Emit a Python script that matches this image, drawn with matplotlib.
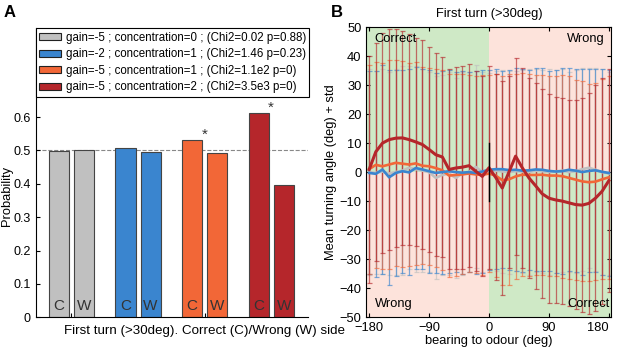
import numpy as np
import matplotlib.pyplot as plt
from matplotlib.patches import Patch

plt.rcParams['font.family'] = ['Liberation Sans', 'DejaVu Sans']
plt.rcParams['font.size'] = 9

# ---- panel A data
legendLabels = ['gain=-5 ; concentration=0 ; (Chi2=0.02 p=0.88)',
                'gain=-2 ; concentration=1 ; (Chi2=1.46 p=0.23)',
                'gain=-5 ; concentration=1 ; (Chi2=1.1e2 p=0)',
                'gain=-5 ; concentration=2 ; (Chi2=3.5e3 p=0)']
probCorrect = [0.499, 0.506, 0.531, 0.613]
probWrong = [0.501, 0.496, 0.491, 0.395]
significant = [False, False, True, True]
colors = ['#c0c0c0', '#3a85cf', '#f26737', '#b5262b']

# ---- panel B data
bearing = list(range(-180, 190, 10))
meanGray = [0.0, -0.3, 0.2, -0.5, 0.0, 0.5, 1.5, 1.0, 0.5, 0.0, -2.0, -1.0, -0.5, -2.0, -0.5, 0.0, 1.8, 0.0, 0.3,
            0.5, 0.2, 0.0, 0.3, 0.2, 0.0, 0.5, 0.3, 0.0, 0.2, 0.5, 0.0, 0.3, 1.0, 1.5, 0.8, 0.0, -0.5]
meanBlue = [-0.3, -0.6, 0.9, -1.8, -0.3, 0.3, -0.1, 1.4, 0.9, 0.3, -0.3, 0.0, 0.3, 0.0, -0.2, 0.0, -0.3, 0.2, 0.8,
            1.0, 1.0, 0.7, 0.8, 0.5, 0.6, 0.9, 0.8, 0.4, 0.2, 0.3, 0.8, 0.5, 0.0, 0.4, 0.6, 0.1, -0.3]
meanOrange = [1.0, 2.5, 2.0, 2.6, 3.2, 2.9, 2.6, 3.0, 2.2, 2.0, 1.4, 0.6, -1.2, -1.0, -0.8, -0.5, -0.8, -1.0, -0.5,
              -1.2, -2.8, -2.5, -1.5, -0.9, -1.0, -1.0, -0.9, -1.2, -1.2, -1.4, -2.0, -2.6, -3.2, -3.5, -3.3, -2.5, -1.8]
meanRed = [0.9, 7.0, 10.0, 11.2, 11.7, 11.8, 11.2, 10.4, 9.5, 7.8, 6.0, 5.2, 0.9, 1.4, 1.7, 2.2, 0.3, -1.5, 1.5,
           -1.8, -5.5, 0.0, 5.5, 1.5, -2.0, -4.7, -7.5, -9.0, -9.6, -10.0, -10.6, -11.2, -11.4, -10.8, -9.0, -6.6, -3.0]
stdGray = [35.5, 35, 35.5, 35, 35.5, 36, 35, 35.5, 35, 34.5, 35, 34.5, 35, 34.5, 35, 34.5, 35, 34.5, 34,
           34.5, 35, 35, 34.5, 35, 35.5, 35, 35, 35.5, 35, 35, 34.5, 35, 35, 34.5, 35, 35.5, 35]
stdBlue = [35, 35.5, 36, 37, 35.5, 35, 35.5, 35, 34.5, 35, 34.5, 35, 35, 34.5, 35, 34.5, 35, 35, 34.5,
           34.5, 34, 34.5, 35, 35, 34.5, 35, 35, 34.5, 35, 35.5, 35, 35, 35.5, 35, 35, 35.5, 35.5]
stdOrange = [36, 35.5, 35.5, 36, 35.5, 35.5, 35, 35, 34, 34, 34, 34.5, 35, 35, 34.5, 34, 34, 34.5, 34,
             35, 36, 36.5, 35.5, 35, 35, 34.5, 34.5, 34.5, 34.5, 35, 35, 34.5, 34.5, 34, 34, 34.5, 35]
stdRed = [39, 37.5, 38, 38, 37.5, 37, 36.5, 36, 36, 35.5, 35, 34.5, 34.5, 35, 35, 35, 34.5, 34.5, 35,
          35.5, 37, 33, 34, 34.5, 34.5, 35.5, 36, 36, 35.5, 35.5, 35.5, 36, 37, 38, 39, 39, 38.5]

fig = plt.figure(figsize=(6.17, 3.48), dpi=100)

# ================= A
axA = fig.add_axes([0.058, 0.088, 0.441, 0.831])
groupPos = np.arange(4) * 2.65
for i in range(4):
    for x, val, letter in [(groupPos[i] - 0.5, probCorrect[i], 'C'), (groupPos[i] + 0.5, probWrong[i], 'W')]:
        axA.bar(x, val, width=0.8, color=colors[i], edgecolor='#444444', linewidth=0.8, zorder=2)
        axA.text(x, 0.012, letter, ha='center', va='bottom', fontsize=11, color='#333333', zorder=3)
    if significant[i]:
        axA.text(groupPos[i], max(probCorrect[i], probWrong[i]) + 0.004, '*', ha='center', va='baseline',
                 fontsize=11, color='#333333', zorder=6)
axA.axhline(0.5, color='#888888', ls='--', lw=0.8, zorder=1)
axA.set_xlim(-1.42, 9.41)
axA.set_ylim(0, 0.866)
axA.set_yticks([0, 0.1, 0.2, 0.3, 0.4, 0.5, 0.6])
axA.set_yticklabels(['0', '0.1', '0.2', '0.3', '0.4', '0.5', '0.6'])
axA.set_xticks([groupPos[0], groupPos[2]])
axA.set_xticklabels(['', ''])
axA.tick_params(direction='in', length=3, width=0.8)
axA.spines['top'].set_visible(False)
axA.spines['right'].set_visible(False)
handles = [Patch(facecolor=c, edgecolor='#222222', linewidth=0.8) for c in colors]
leg = axA.legend(handles, legendLabels, loc='upper left', bbox_to_anchor=(0, 1), borderaxespad=0,
                 fontsize=8.3, frameon=True, fancybox=False, edgecolor='black', framealpha=1,
                 handlelength=1.9, handleheight=0.55, labelspacing=0.4, handletextpad=0.4, borderpad=0.3)
leg.get_frame().set_linewidth(0.8)
leg.set_zorder(5)
fig.text(0.331, 0.048, 'First turn (>30deg). Correct (C)/Wrong (W) side', ha='center', va='center', fontsize=9.6)
fig.text(0.012, 0.437, 'Probability', rotation=90, ha='center', va='center', fontsize=9.3)
fig.text(0.015, 0.965, 'A', fontsize=12, fontweight='bold', ha='center', va='center')

# ================= B
axB = fig.add_axes([0.594, 0.089, 0.397, 0.833])
green = '#cfe9c6'
pink = '#fde3db'
axB.fill_between([-184, 0], 0, 50, color=green, lw=0, zorder=0)
axB.fill_between([0, 184], 0, 50, color=pink, lw=0, zorder=0)
axB.fill_between([-184, 0], -50, 0, color=pink, lw=0, zorder=0)
axB.fill_between([0, 184], -50, 0, color=green, lw=0, zorder=0)

series = [(meanGray, stdGray, colors[0]), (meanBlue, stdBlue, colors[1]),
          (meanOrange, stdOrange, colors[2]), (meanRed, stdRed, colors[3])]
for m, s, c in series:
    axB.errorbar(bearing, m, yerr=s, fmt='none', ecolor=c, elinewidth=0.9, capsize=1.8,
                 capthick=0.9, alpha=0.65, zorder=2)
axB.plot(bearing, meanGray, color=colors[0], lw=1.9, zorder=3)
axB.plot(bearing, meanOrange, color=colors[2], lw=1.9, zorder=3)
axB.plot(bearing, meanBlue, color=colors[1], lw=1.9, zorder=3)
axB.plot(bearing, meanRed, color=colors[3], lw=2.2, zorder=4)
axB.plot([0, 0], [-10, 10], color='black', lw=1, zorder=5)

axB.text(-172, 46, 'Correct', ha='left', va='center', fontsize=9.3, zorder=6)
axB.text(173, 46, 'Wrong', ha='right', va='center', fontsize=9.3, zorder=6)
axB.text(-172, -45.5, 'Wrong', ha='left', va='center', fontsize=9.3, zorder=6)
axB.text(181, -45.5, 'Correct', ha='right', va='center', fontsize=9.3, zorder=6)

axB.set_xlim(-184, 184)
axB.set_ylim(-50, 50)
axB.set_xticks([-180, -90, 0, 90, 180])
axB.set_yticks(range(-50, 51, 10))
axB.tick_params(direction='in', length=3, width=0.8, top=True, right=True, labelsize=9.3)
lastLabel = axB.get_xticklabels()[-1]
lastLabel.set_ha('right')
axB.set_title('First turn (>30deg)', fontsize=9.3, pad=7)
axB.set_xlabel('bearing to odour (deg)', fontsize=9.3, labelpad=1)
axB.set_ylabel('Mean turning angle (deg) + std', fontsize=9.3, labelpad=2)
fig.text(0.546, 0.965, 'B', fontsize=12, fontweight='bold', ha='center', va='center')

fig.savefig('out.png', dpi=100)
